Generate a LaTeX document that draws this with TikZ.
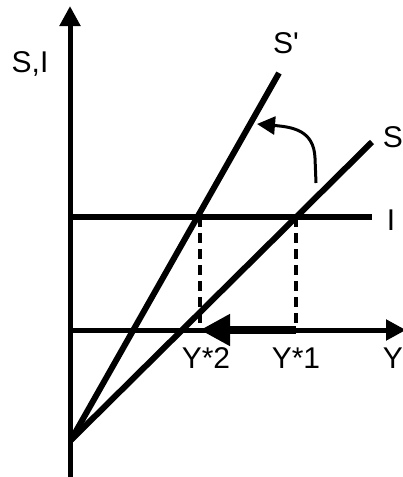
\documentclass[tikz,border=0pt]{standalone}
\usepackage{fontspec}
\newfontfamily\lbfont{Liberation Sans}
\usetikzlibrary{arrows.meta}
\begin{document}
\begin{tikzpicture}[x=1pt,y=-1pt,
  thickline/.style={line width=6pt},
  axis/.style={line width=5pt,-{Triangle[length=20pt,width=20pt]}},
  dashline/.style={line width=4pt,dash pattern=on 10pt off 6pt},
  lbl/.style={font=\lbfont\fontsize{30}{33}\selectfont,inner sep=0pt,anchor=base}]
\useasboundingbox (0,0) rectangle (403,477);
% coordinates
\coordinate (ybot) at (70,477);
\coordinate (ytop) at (70,6);
\coordinate (xl) at (68,330);
\coordinate (xr) at (406,330);
\coordinate (O) at (71,440);
\coordinate (Send) at (372,142);
\coordinate (Spend) at (279,73);
\coordinate (Il) at (70,217);
\coordinate (Ir) at (372,217);
\coordinate (E1) at (296,217);
\coordinate (E2) at (200,217);
\coordinate (F1) at (296,330);
\coordinate (F2) at (200,330);
\coordinate (cs) at (316,183);
\coordinate (ce) at (257,124);
% axes
\draw[axis] (ybot) -- (ytop);
\draw[axis] (xl) -- (xr);
% lines
\draw[thickline] (O) -- (Send);
\draw[thickline] (O) -- (Spend);
\draw[thickline] (Il) -- (Ir);
% dashed
\draw[dashline] (E1) -- (F1);
\draw[dashline] (E2) -- (F2);
% shift arrow
\draw[line width=8pt,-{Triangle[length=30pt,width=30pt]}] (F1) -- (F2);
% curved arrow
\draw[line width=3pt,-{Triangle[length=18pt,width=18pt]}] (cs) -- (315,158) .. controls (314,130) and (292,127) .. (ce);
% labels
\node[lbl] (SI) at (30,72) {S,I};
\node[lbl] (Sp) at (286,53) {S'};
\node[lbl] (S) at (393,147) {S};
\node[lbl] (I) at (391,230) {I};
\node[lbl] (Y2) at (206,368) {Y*2};
\node[lbl] (Y1) at (296,368) {Y*1};
\node[lbl] (Y) at (393,368) {Y};
\end{tikzpicture}
\end{document}
